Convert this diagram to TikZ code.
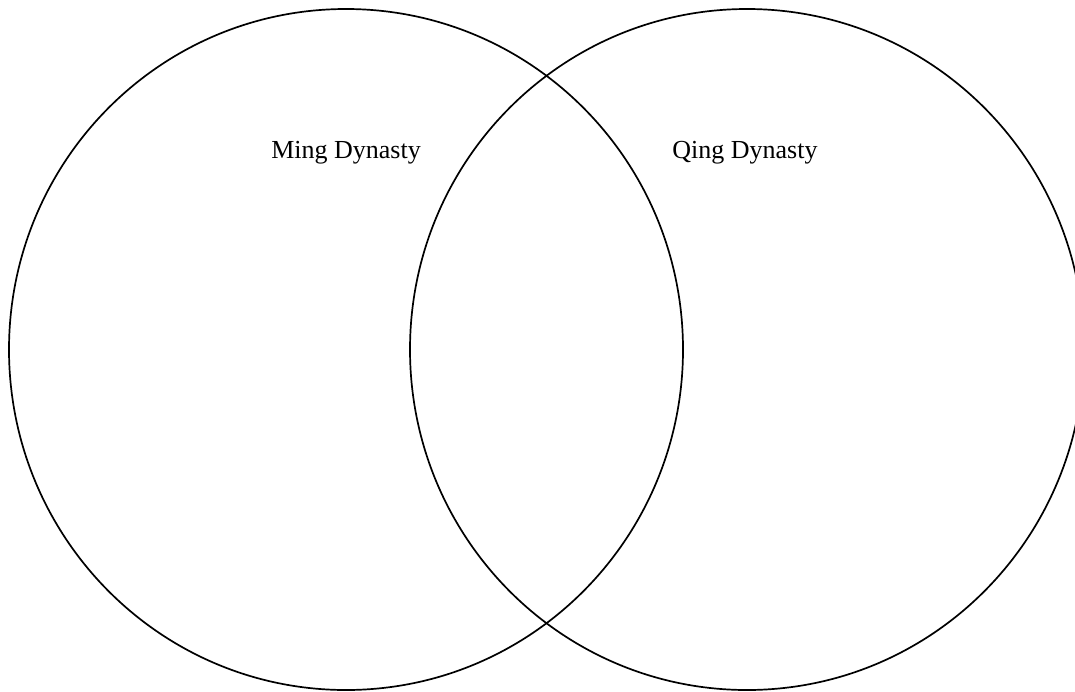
\documentclass[tikz,border=0pt]{standalone}
\usepackage{fontspec}
\setmainfont{Liberation Serif}
\usetikzlibrary{positioning}

\begin{document}
\begin{tikzpicture}[
  x=1pt, y=-1pt,
  ring/.style={draw, line width=1.7pt},
  lbl/.style={font=\fontsize{26}{30}\selectfont, inner sep=0pt}
]
\useasboundingbox (0,0) rectangle (1075,691);
\clip (0,0) rectangle (1075,691);

\draw[ring] (346,349.5) ellipse[x radius=337, y radius=340.5];
\draw[ring] (747,349.5) ellipse[x radius=337, y radius=340.5];

\node[lbl] (ming) at (346,153) {Ming Dynasty};
\node[lbl] (qing) at (745,153) {Qing Dynasty};

\end{tikzpicture}
\end{document}
